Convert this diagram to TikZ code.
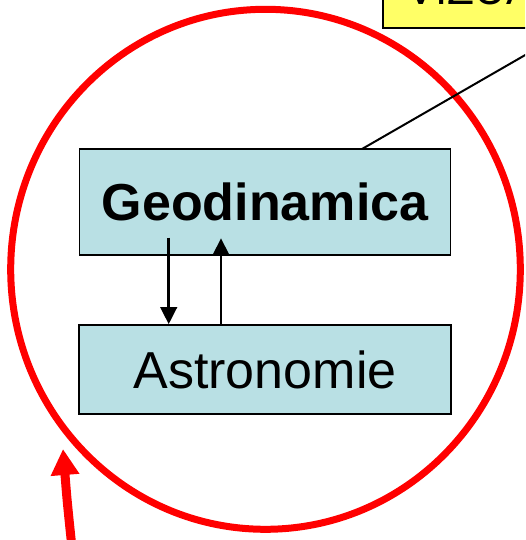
\documentclass[tikz,border=0pt]{standalone}
\usepackage{fontspec}
\setmainfont{Liberation Sans}
\usetikzlibrary{arrows.meta}
\definecolor{boxblue}{RGB}{185,224,228}
\definecolor{noteyellow}{RGB}{255,255,102}
\begin{document}
\begin{tikzpicture}[x=1pt,y=-1pt,
  bluebox/.style={draw=black, line width=1.7pt, fill=boxblue, inner sep=0pt, font=\fontsize{52}{60}\selectfont},
  flowarrow/.style={line width=2.6pt, -{Triangle[width=16.5pt,length=17pt]}},
  ringline/.style={draw=red, line width=7pt},
  bigarrow/.style={draw=red, line width=9pt, -{Triangle[width=27pt,length=26pt]}}]
\useasboundingbox (0,0) rectangle (525,540);
\clip (0,0) rectangle (525,540);
% yellow box (cut by frame)
\node[draw=black, line width=2pt, fill=noteyellow, minimum width=200pt, minimum height=100pt, anchor=south west, inner sep=0pt] (note) at (382,29) {};
\node[anchor=base west, inner sep=0pt, font=\fontsize{44}{50}\selectfont] (notetext) at (406,5) {VIZUALIZARE};
% red ring
\draw[ringline] (265.5,269.3) ellipse [x radius=254.8, y radius=260];
% boxes
\node[bluebox, minimum width=371pt, minimum height=106pt] (geo) at (265,202) {\bfseries Geodinamica};
\node[bluebox, minimum width=372pt, minimum height=89pt] (astr) at (265,369.5) {Astronomie};
% connector to note
\coordinate (lineend) at (560,35);
\draw[line width=2pt] (362,149) coordinate (geotop) -- (lineend);
% arrows between boxes
\coordinate (downstart) at (168.7,237.7);
\coordinate (upend) at (221,238.3);
\draw[flowarrow] (downstart) -- (downstart |- astr.north);
\draw[flowarrow] (upend |- astr.north) -- (upend);
% big red arrow
\coordinate (redstart) at (72,548);
\coordinate (redtip) at (63,449);
\draw[bigarrow] (redstart) .. controls (67,500) .. (redtip);
\end{tikzpicture}
\end{document}
